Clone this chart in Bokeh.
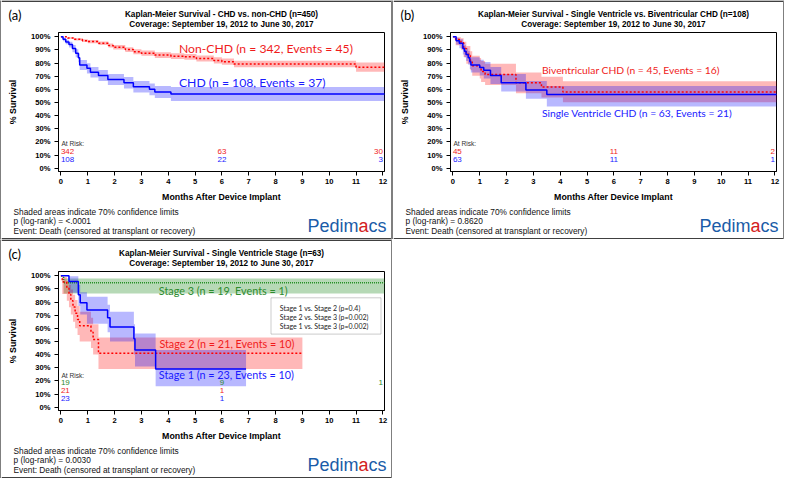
from bokeh.plotting import figure
from bokeh.layouts import column, row
from bokeh.models import Label, BoxAnnotation, FixedTicker, PrintfTickFormatter, Span
from bokeh.embed import file_html
from bokeh.resources import INLINE

MONTH_TICKS = list(range(13))
PCT_TICKS = list(range(0, 101, 10))
COVERAGE = "Coverage: September 19, 2012 to June 30, 2017"
RISK_MONTHS = [0, 6, 12]

# ---------- Panel (a): CHD vs non-CHD ----------
chd_t = [0, 0.08, 0.18, 0.3, 0.43, 0.55, 0.65, 0.7, 0.97, 1.1, 1.4, 1.75, 2.35, 2.7, 3.3, 3.5, 4.1, 12.1]
chd_s = [100, 98, 96, 94, 91, 87.5, 84, 78.5, 76, 73, 70.5, 67.5, 65, 62, 60, 58, 56.5, 56.5]
chd_lo = [100, 96.6, 94.2, 91.7, 88.2, 84.3, 80.5, 74.7, 72.1, 69, 66.3, 63.2, 60.6, 57.5, 55.4, 53.3, 51.2, 51.2]
chd_hi = [100, 99.2, 97.6, 96.1, 93.6, 90.5, 87.3, 82.2, 79.8, 76.9, 74.6, 71.7, 69.3, 66.4, 64.5, 62.6, 61.7, 61.7]

non_t = [0, 0.25, 0.5, 0.8, 1.0, 1.4, 1.77, 1.95, 2.4, 2.7, 3.0, 3.5, 4.1, 4.6, 5.05, 5.7, 6.0, 6.45, 11.0, 12.1]
non_s = [100, 99, 98, 97, 96.3, 95, 93.3, 92, 90.2, 88.5, 87.5, 86, 85.2, 84.7, 83.5, 82, 81, 79.3, 76.8, 76.8]
non_lo = [100, 98.4, 97.1, 95.9, 95.1, 93.6, 91.7, 90.3, 88.4, 86.6, 85.5, 83.9, 83.0, 82.5, 81.2, 79.6, 78.6, 76.8, 73.3, 73.3]
non_hi = [100, 99.6, 98.9, 98.1, 97.5, 96.4, 94.9, 93.7, 92.0, 90.4, 89.5, 88.1, 87.4, 86.9, 85.8, 84.4, 83.4, 81.8, 80.3, 80.3]

a_risk_non = ["342", "63", "30"]
a_risk_chd = ["108", "22", "3"]

# ---------- Panel (b): Single ventricle vs biventricular ----------
sv_t = [0, 0.12, 0.24, 0.37, 0.43, 0.49, 0.57, 0.63, 0.67, 1.0, 1.15, 1.4, 1.8, 2.72, 3.5, 12.1]
sv_s = [100, 97, 95, 91, 89, 86.5, 84, 81, 78.5, 76.5, 74.5, 70.5, 65, 59.5, 56, 56]
sv_hi = [100, 99.2, 98, 95.2, 93.5, 91.3, 89.2, 86.5, 84.3, 82.5, 80.7, 77, 71.6, 66.3, 62.6, 62.6]
sv_lo = [100, 94, 91.3, 86.5, 84.2, 81.5, 78.7, 75.5, 72.7, 70.5, 68.3, 64, 58.4, 52.8, 47, 47]

biv_t = [0, 0.1, 0.3, 0.4, 0.5, 0.65, 0.72, 1.0, 1.05, 1.2, 2.35, 3.3, 4.1, 12.1]
biv_s = [100, 97.8, 95.5, 91, 86.7, 82, 78, 76, 73.5, 71.3, 65, 61.7, 58, 58]
biv_hi = [100, 99.5, 98.8, 96.2, 93, 89, 85.5, 83.8, 81.5, 79.5, 72.8, 69.5, 66.2, 66.2]
biv_lo = [100, 93.5, 90, 84.5, 79.5, 74.5, 70.3, 68.2, 65.5, 63.2, 57, 53.8, 50.2, 50.2]

b_risk_biv = ["45", "11", "2"]
b_risk_sv = ["63", "11", "1"]

# ---------- Panel (c): Single ventricle stage ----------
s3_t = [0, 0.1, 12.1]
s3_s = [100, 94.7, 94.7]
s3_hi = [100, 97.8, 97.8]
s3_lo = [100, 86.5, 86.5]

s2_t = [0, 0.05, 0.22, 0.3, 0.37, 0.45, 0.53, 0.62, 0.7, 1.12, 1.2, 1.4, 9.0]
s2_s = [100, 95.2, 90.5, 85.7, 81, 76.2, 71.4, 66.7, 61.9, 57, 51.5, 41, 41]
s2_hi = [100, 99, 96, 93, 89.5, 85.5, 81.5, 77, 72.5, 68, 63, 53, 53]
s2_lo = [100, 86, 81, 76, 70.5, 65, 60, 55, 50, 45, 40, 29, 29]

s1_t = [0, 0.3, 0.65, 0.72, 0.97, 1.74, 1.83, 2.72, 2.76, 3.53, 6.9]
s1_s = [100, 95.6, 85.5, 79.5, 74, 68, 61, 52, 43.5, 29, 29]
s1_hi = [100, 99.5, 93, 87.4, 84, 78, 72.5, 63, 56, 43.5, 43.5]
s1_lo = [100, 87, 77, 70.5, 63.5, 57, 50, 40, 31, 16, 16]

c_risk_s3 = ["19", "9", "1"]
c_risk_s2 = ["21", "1", ""]
c_risk_s1 = ["23", "1", ""]

stage_pvals = ["Stage 1 vs. Stage 2 (p=0.4)",
               "Stage 2 vs. Stage 3 (p=0.002)",
               "Stage 1 vs. Stage 3 (p=0.002)"]

# ---------- styling ----------
FA = "Liberation Sans"
FC = "Lato"
RED, BLUE, GREEN = "#ff0000", "#0000ff", "#1e8c1e"
RED_T, BLUE_T, GREEN_T = "#f01c1c", "#1a1aff", "#2e8b2e"
IW = 390          # inner width of a panel
HEAD_H, MAIN_H, FOOT_H = 30, 174, 35
PANEL_H = HEAD_H + MAIN_H + FOOT_H


def blank(w, h, color="white"):
    f = figure(width=w, height=h, x_range=(0, w), y_range=(0, h),
               output_backend="svg", toolbar_location=None,
               x_axis_type=None, y_axis_type=None,
               min_border=0, min_border_left=0, min_border_right=0,
               min_border_top=0, min_border_bottom=0)
    f.outline_line_color = None
    f.background_fill_color = color
    f.border_fill_color = color
    return f


def make_panel(tag, title1, pval, curves, big_labels, label_size, risk_rows, risk_label_y):
    # ---- header with tag and title ----
    head = blank(IW, HEAD_H)
    head.add_layout(Span(location=HEAD_H - 0.6, dimension="width", line_color="black",
                         line_width=1.2))
    head.add_layout(Label(x=7, y=15.5, text=tag, text_font=FC, text_font_size="13px",
                          text_color="black", text_baseline="middle"))
    for txt, y in ((title1, 15.8), (COVERAGE, 6.0)):
        head.add_layout(Label(x=220, y=y, text=txt, text_font=FA, text_font_size="8.2px",
                              text_font_style="bold", text_align="center",
                              text_baseline="middle", text_color="black"))

    # ---- main plot ----
    p = figure(width=IW, height=MAIN_H, x_range=(-0.09, 12.06), y_range=(-2.5, 103.2),
               output_backend="svg", toolbar_location=None,
               min_border_left=57, min_border_right=7, min_border_top=2, min_border_bottom=32)
    p.xgrid.visible = False
    p.ygrid.visible = False
    p.outline_line_color = "black"
    p.outline_line_width = 1
    for ax in (p.xaxis[0], p.yaxis[0]):
        ax.axis_line_color = "black"
        ax.major_tick_line_color = "black"
        ax.major_tick_in = 0
        ax.major_tick_out = 4
        ax.minor_tick_line_color = None
        ax.major_label_text_font = FA
        ax.major_label_text_font_style = "bold"
        ax.major_label_text_font_size = "7.6px"
        ax.major_label_text_color = "black"
        ax.axis_label_text_font = FA
        ax.axis_label_text_font_style = "bold"
        ax.axis_label_text_font_size = "8.8px"
        ax.axis_label_text_color = "black"
    p.xaxis.ticker = FixedTicker(ticks=MONTH_TICKS)
    p.yaxis.ticker = FixedTicker(ticks=PCT_TICKS)
    p.yaxis.formatter = PrintfTickFormatter(format="%d%%")
    p.xaxis.axis_label = "Months After Device Implant"
    p.yaxis.axis_label = "% Survival"
    p.xaxis.major_label_standoff = 3
    p.yaxis.major_label_standoff = 4
    p.xaxis.axis_label_standoff = 5
    p.yaxis.axis_label_standoff = 10

    for c in curves:
        p.varea_step(x=c["t"], y1=c["lo"], y2=c["hi"], step_mode="after",
                     fill_color=c["fill"], fill_alpha=c["alpha"])
    for c in curves:
        kw = {}
        if c.get("dash"):
            kw["line_dash"] = c["dash"]
        p.step(x=c["t"], y=c["s"], mode="after", line_color=c["color"], line_width=1.5, **kw)

    for (txt, x, y, col) in big_labels:
        p.add_layout(Label(x=x, y=y, text=txt, text_color=col, text_font=FC,
                           text_font_size=label_size, text_baseline="middle"))

    p.add_layout(Label(x=0.02, y=risk_label_y, text="At Risk:", text_font=FA,
                       text_font_size="6.6px", text_color="#333333", text_baseline="middle"))
    aligns = ["left", "center", "right"]
    for (vals, y, col) in risk_rows:
        for m, v, al in zip(RISK_MONTHS, vals, aligns):
            if v:
                p.add_layout(Label(x=m, y=y, text=v, text_font=FA, text_font_size="8px",
                                   text_color=col, text_align=al, text_baseline="middle"))

    # ---- footer with notes and logo ----
    foot = blank(IW, FOOT_H)
    foot.add_layout(Span(location=0.6, dimension="width", line_color="black", line_width=1.2))
    notes = ["Shaded areas indicate 70% confidence limits", pval,
             "Event: Death (censored at transplant or recovery)"]
    for txt, y in zip(notes, (28.0, 18.3, 8.7)):
        foot.add_layout(Label(x=12, y=y, text=txt, text_font=FA, text_font_size="8.3px",
                              text_color="#111111", text_baseline="middle"))
    for txt, x, al, col in (("Pedim", 357, "right", "#1a5ca8"), ("a", 362, "center", "#d42020"),
                            ("cs", 367, "left", "#1a5ca8")):
        foot.add_layout(Label(x=x, y=13.5, text=txt, text_font=FA, text_font_size="18px",
                              text_color=col, text_align=al, text_baseline="middle"))

    inner = column(row(head), p, row(foot), spacing=0)
    panel = row(blank(1, PANEL_H, "black"), inner, blank(1, PANEL_H, "black"), spacing=0)
    return panel, p


pa, fa = make_panel(
    "(a)", "Kaplan-Meier Survival - CHD vs. non-CHD (n=450)", "p (log-rank) = <.0001",
    [dict(t=non_t, s=non_s, lo=non_lo, hi=non_hi, color=RED, fill=RED, alpha=0.28, dash="2 2"),
     dict(t=chd_t, s=chd_s, lo=chd_lo, hi=chd_hi, color=BLUE, fill=BLUE, alpha=0.28)],
    [("Non-CHD (n = 342, Events = 45)", 4.4, 91, RED_T),
     ("CHD (n = 108, Events = 37)", 4.4, 65.5, BLUE_T)], "12.2px",
    [(a_risk_non, 12.6, RED_T), (a_risk_chd, 6.7, BLUE_T)], 18.8)

pb, fb = make_panel(
    "(b)", "Kaplan-Meier Survival - Single Ventricle vs. Biventricular CHD (n=108)",
    "p (log-rank) = 0.8620",
    [dict(t=biv_t, s=biv_s, lo=biv_lo, hi=biv_hi, color=RED, fill=RED, alpha=0.28, dash="2 2"),
     dict(t=sv_t, s=sv_s, lo=sv_lo, hi=sv_hi, color=BLUE, fill=BLUE, alpha=0.28)],
    [("Biventricular CHD (n = 45, Events = 16)", 3.32, 74.9, RED_T),
     ("Single Ventricle CHD (n = 63, Events = 21)", 3.32, 42.1, BLUE_T)], "10.3px",
    [(b_risk_biv, 12.6, RED_T), (b_risk_sv, 6.7, BLUE_T)], 18.8)

pc, fc = make_panel(
    "(c)", "Kaplan-Meier Survival - Single Ventricle Stage (n=63)", "p (log-rank) = 0.0030",
    [dict(t=s3_t, s=s3_s, lo=s3_lo, hi=s3_hi, color=GREEN, fill="#228b22", alpha=0.33, dash="1 1"),
     dict(t=s2_t, s=s2_s, lo=s2_lo, hi=s2_hi, color=RED, fill=RED, alpha=0.28, dash="2 2"),
     dict(t=s1_t, s=s1_s, lo=s1_lo, hi=s1_hi, color=BLUE, fill=BLUE, alpha=0.28)],
    [("Stage 3 (n = 19, Events = 1)", 3.65, 88.6, GREEN_T),
     ("Stage 2 (n = 21, Events = 10)", 3.67, 48.5, RED_T),
     ("Stage 1 (n = 23, Events = 10)", 3.65, 24.8, BLUE_T)], "10.8px",
    [(c_risk_s3, 18.7, GREEN_T), (c_risk_s2, 12.6, RED_T), (c_risk_s1, 6.6, BLUE_T)], 24.3)

fc.add_layout(BoxAnnotation(left=7.83, right=11.93, bottom=55.6, top=83.2,
                            fill_color="white", fill_alpha=1.0,
                            line_color="#555555", line_width=1))
for txt, y in zip(stage_pvals, [75.7, 68.6, 61.8]):
    fc.add_layout(Label(x=8.16, y=y, text=txt, text_font=FC, text_font_size="7px",
                        text_color="#222222", text_baseline="middle"))

layout = column(row(pa, pb, spacing=0), row(pc, spacing=0), spacing=0)
open("out.html", "w").write(file_html(layout, INLINE))
